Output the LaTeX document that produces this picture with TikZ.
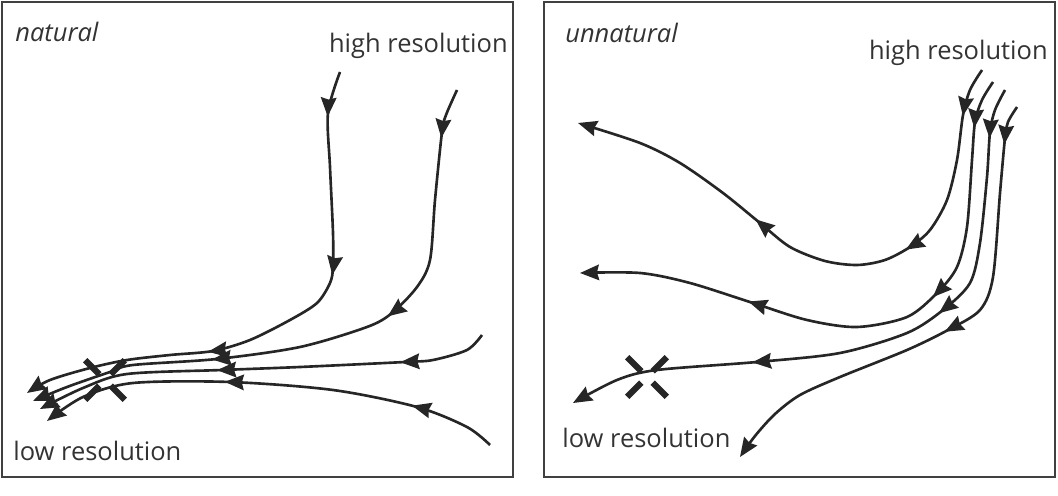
\documentclass[tikz,border=0pt]{standalone}
\usepackage{fontspec}
\setmainfont{Open Sans}
\usetikzlibrary{arrows.meta, decorations.markings}
\def\FlowColor{black!85}
\def\FrameColor{black!75}

\begin{document}
\begin{tikzpicture}[
    x=0.02cm, y=-0.02cm,
    every node/.style={inner sep=0pt, text=black!80, font=\fontsize{14.5}{17}\selectfont},
    panel/.style={draw=\FrameColor, line width=1.3pt},
    flow/.style={draw=\FlowColor, line width=1.5pt, -{Stealth[length=3.8mm, width=3.1mm, inset=0.4mm]}},
    midarrow/.style={postaction={decorate, decoration={markings, mark=at position #1 with {\arrow{Stealth[length=3.8mm, width=3.1mm, inset=0.4mm]}}}}},
    cross/.style={draw=\FlowColor, line width=3.6pt}, % -- , line cap=round},
    title/.style={anchor=base west, font=\fontsize{14.5}{17}\selectfont\itshape},
    res/.style={anchor=base #1}
]
\useasboundingbox (0,0) rectangle (1058,496);

% Panels
\draw[panel] (2,2) rectangle (513,477);
\draw[panel] (544,2) rectangle (1055,477);

% Left panel labels
\node[title] (natLabel) at (15,42) {natural};
\node[res=east] (natHigh) at (508,53) {high resolution};
\node[res=west] (natLow) at (13,460) {low resolution};

% Right panel labels
\node[title] (unnatLabel) at (565,43) {unnatural};
\node[res=east] (unnatHigh) at (1048,60) {high resolution};
\node[res=west] (unnatLow) at (562,447) {low resolution};

% Left panel flows
\draw[flow, midarrow=0.085, midarrow=0.376, midarrow=0.656] plot[smooth] coordinates {(340,72) (328,113) (330,167) (333,233) (333,267) (330,283) (317,303) (290,320) (250,340) (213,351) (170,355) (127,360) (90,368) (50,380) (27,393)};
\draw[flow, midarrow=0.083, midarrow=0.4, midarrow=0.697] plot[smooth] coordinates {(457,90) (446,115) (442,132) (435,200) (430,260) (417,287) (392,313) (367,327) (300,347) (217,359) (133,365) (110,372) (67,387) (33,401)};
\draw[flow, midarrow=0.196, midarrow=0.597] plot[smooth] coordinates {(482,335) (467,350) (433,360) (405,362) (300,367) (222,370) (127,374) (83,388) (40,409)};
\draw[flow, midarrow=0.19, midarrow=0.597] plot[smooth] coordinates {(490,445) (467,427) (417,407) (333,390) (230,382) (133,383) (83,397) (47,421)};

% Right panel flows
\draw[flow, midarrow=0.088, midarrow=0.353, midarrow=0.643] plot[smooth] coordinates {(982,70) (970,90) (963,115) (957,160) (947,200) (930,230) (910,247) (885,260) (857,265) (825,261) (790,247) (760,223) (723,193) (680,163) (640,143) (578,123)};
\draw[flow, midarrow=0.084, midarrow=0.384, midarrow=0.712] plot[smooth] coordinates {(993,82) (982,100) (975,122) (972,160) (967,227) (957,267) (937,293) (907,317) (857,327) (807,320) (753,303) (690,283) (640,273) (580,273)};
\draw[flow, midarrow=0.082, midarrow=0.387, midarrow=0.701] plot[smooth] coordinates {(1005,90) (995,110) (990,132) (987,177) (980,243) (970,283) (943,310) (907,333) (840,353) (757,362) (657,370) (617,380) (573,403)};
\draw[flow, midarrow=0.081, midarrow=0.506] plot[smooth] coordinates {(1017,107) (1008,122) (1005,138) (1000,193) (993,277) (980,310) (948,330) (907,350) (840,377) (800,395) (775,414) (755,436) (740,457)};

% Crosses
\foreach \a in {45,135,225,315} {
    \draw[cross] (105,380) ++(\a:8) -- ++(\a:20);
    \draw[cross] (647,377) ++(\a:8) -- ++(\a:20);
}
\end{tikzpicture}
\end{document}
